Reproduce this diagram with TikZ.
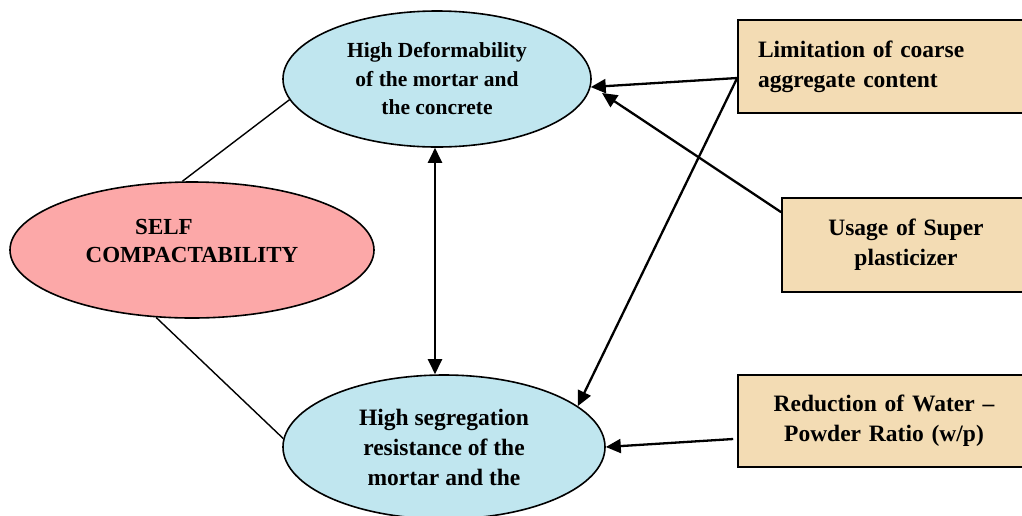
\documentclass[tikz,border=0pt]{standalone}
\usepackage{fontspec}
\setmainfont{Liberation Serif}
\usetikzlibrary{arrows.meta,shapes.geometric}
\definecolor{bluefill}{RGB}{192,230,239}
\definecolor{pinkfill}{RGB}{252,168,168}
\definecolor{tanfill}{RGB}{243,220,180}
\tikzset{
  ell/.style={ellipse, draw=black, line width=1.6pt, inner sep=0pt, align=center},
  boxnode/.style={rectangle, draw=black, line width=1.6pt, fill=tanfill, inner sep=0pt,
    font=\bfseries\fontsize{23.5}{30}\selectfont},
  conn/.style={line width=1.4pt},
  arr/.style={line width=2.3pt, -{Triangle[length=15pt,width=14pt]}},
  darr/.style={line width=2.3pt, {Triangle[length=15pt,width=14pt]}-{Triangle[length=15pt,width=14pt]}},
}
\begin{document}
\begin{tikzpicture}[x=1pt,y=-1pt]
\clip (0,0) rectangle (1022,515);
\node[ell, fill=bluefill, minimum width=308pt, minimum height=136pt,
  font=\bfseries\fontsize{21.5}{28.5}\selectfont] (deform) at (437,79)
  {High Deformability\\of the mortar and\\the concrete};
\node[ell, fill=pinkfill, minimum width=364pt, minimum height=136pt] (self) at (192,250) {};
\node[align=center, inner sep=0pt, font=\bfseries\fontsize{23}{28}\selectfont] (selftext) at (192,241)
  {SELF\hspace*{56pt}\\COMPACTABILITY};
\node[ell, fill=bluefill, minimum width=322pt, minimum height=144pt,
  font=\bfseries\fontsize{23.5}{30}\selectfont] (seg) at (444,447)
  {High segregation\\resistance of the\\mortar and the};
\node[boxnode, minimum width=292pt, minimum height=93pt, text width=252pt, align=left] (coarse) at (884,66.5)
  {Limitation of coarse\\aggregate content};
\node[boxnode, minimum width=248pt, minimum height=94pt, text width=220pt, align=center] (super) at (906,245)
  {Usage of Super\\plasticizer};
\node[boxnode, minimum width=292pt, minimum height=92pt, text width=260pt, align=center] (water) at (884,421)
  {Reduction of Water --\\Powder Ratio (w/p)};
\coordinate (t3) at (602,93);
\draw[conn] (deform.188) -- (self.98);
\draw[conn] (self.242) -- (seg.177);
\draw[darr] ([xshift=-2pt]deform.south) -- ([xshift=-9pt]seg.north);
\draw[arr] ([yshift=-11.5pt]coarse.west) -- (deform.-3);
\draw[arr] ([yshift=-11.5pt]coarse.west) -- (seg.17);
\draw[arr] ([yshift=-15pt]super.north west) -- (t3);
\draw[arr] ([yshift=-18pt,xshift=-4pt]water.west) -- (seg.east);
\end{tikzpicture}
\end{document}
